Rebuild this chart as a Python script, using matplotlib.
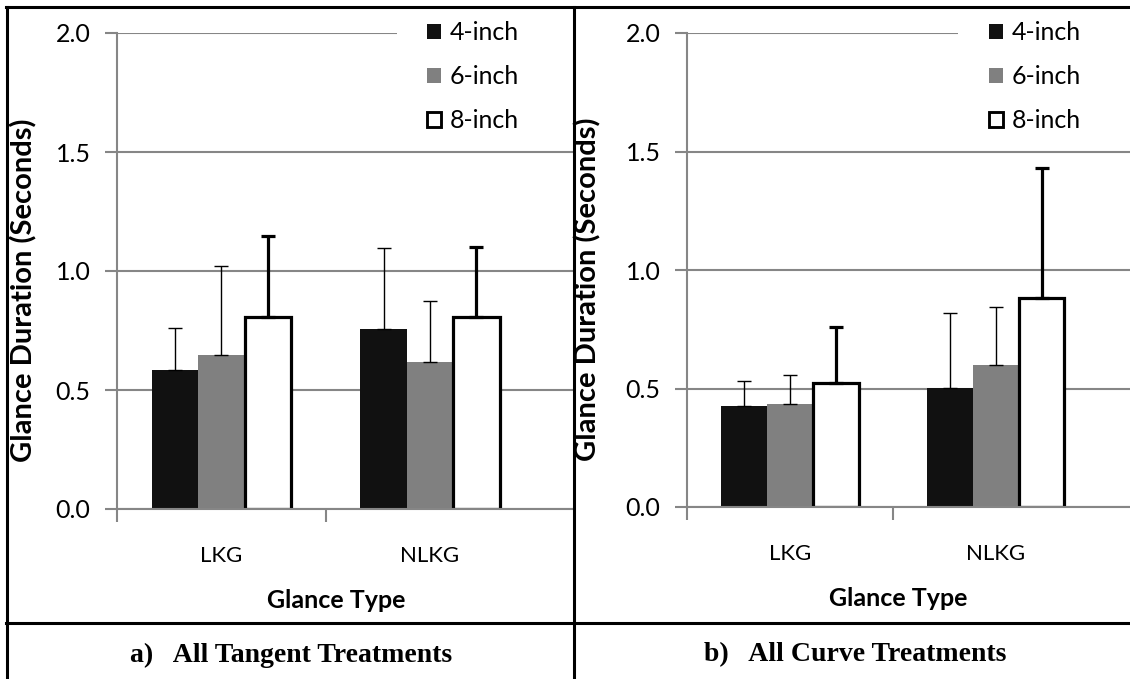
import numpy as np
import matplotlib
matplotlib.use("Agg")
import matplotlib.pyplot as plt
from matplotlib.patches import Patch, Rectangle
from matplotlib.lines import Line2D
from matplotlib.ticker import FormatStrFormatter

# ---------------- data ----------------
categories = ["LKG", "NLKG"]
sizes = ["4-inch", "6-inch", "8-inch"]

# a) all tangent treatments
tan_mean = {"4-inch": [0.585, 0.755], "6-inch": [0.648, 0.616], "8-inch": [0.805, 0.805]}
tan_err = {"4-inch": [0.177, 0.341], "6-inch": [0.371, 0.260], "8-inch": [0.340, 0.295]}

# b) all curve treatments
cur_mean = {"4-inch": [0.426, 0.503], "6-inch": [0.435, 0.598], "8-inch": [0.522, 0.883]}
cur_err = {"4-inch": [0.107, 0.317], "6-inch": [0.122, 0.246], "8-inch": [0.237, 0.549]}

captions = ["a)   All Tangent Treatments", "b)   All Curve Treatments"]

# ---------------- style ----------------
face = {"4-inch": "#111111", "6-inch": "#808080", "8-inch": "white"}
edge_w = {"4-inch": 0, "6-inch": 0, "8-inch": 2.3}
err_w = {"4-inch": 1.0, "6-inch": 1.0, "8-inch": 2.3}
grid_c = "#868686"
sans = ["Lato", "DejaVu Sans"]
W, H = 1130, 679

fig = plt.figure(figsize=(W / 100, H / 100), dpi=100)


def px(x0, y0, x1, y1):
    # pixel box -> figure fraction [left, bottom, width, height]
    return [x0 / W, 1 - y1 / H, (x1 - x0) / W, (y1 - y0) / H]


def panel(box, xmax, means, errs, legend_x, legend_right, xlab_x, ylab_x):
    ax = fig.add_axes(box)
    x = np.arange(len(categories))
    bw = 1 / 4.5
    for i, s in enumerate(sizes):
        ax.bar(x + (i - 1) * bw, means[s], bw, color=face[s], edgecolor="black",
               linewidth=edge_w[s], zorder=2)
        ax.errorbar(x + (i - 1) * bw, means[s], yerr=[np.zeros(len(x)), errs[s]],
                    fmt="none", ecolor="black", elinewidth=err_w[s],
                    capsize=5, capthick=err_w[s], zorder=3)
    ax.set_xlim(-0.5, xmax)
    ax.set_ylim(0, 2.0)
    ax.set_yticks([0, 0.5, 1.0, 1.5, 2.0])
    ax.yaxis.set_major_formatter(FormatStrFormatter("%.1f"))
    ax.set_xticks(x)
    ax.set_xticklabels(categories, fontsize=16, family=sans)
    ax.set_xticks([-0.5, 0.5], minor=True)
    ax.tick_params(axis="x", which="major", length=0, pad=27)
    ax.tick_params(axis="x", which="minor", length=9, width=1.5, color=grid_c, direction="out")
    ax.tick_params(axis="y", length=9, width=1.5, color=grid_c, labelsize=18, pad=10)
    for lab in ax.get_yticklabels():
        lab.set_family(sans)
    ax.set_axisbelow(True)
    ax.yaxis.grid(True, color=grid_c, linewidth=1.5)
    for sp in ["top", "right"]:
        ax.spines[sp].set_visible(False)
    for sp in ["left", "bottom"]:
        ax.spines[sp].set_color(grid_c)
        ax.spines[sp].set_linewidth(1.5)
    ax.set_xlabel("Glance Type", fontsize=18, fontweight="bold", family=sans)
    ax.xaxis.set_label_coords(xlab_x, -0.168)
    ax.set_ylabel("Glance Duration (Seconds)", fontsize=21, fontweight="bold", family=sans)
    ax.yaxis.set_label_coords(ylab_x, 0.46)
    # legend sits on white, cutting the top gridline
    ax.add_patch(Rectangle((legend_x, 0.97), 1.2, 0.06, transform=ax.transAxes,
                           facecolor="white", edgecolor="none", zorder=1, clip_on=False))
    handles = [Patch(facecolor=face[s], edgecolor="black", linewidth=edge_w[s] * 0.9) for s in sizes]
    ax.legend(handles, sizes, loc="upper right", bbox_to_anchor=(legend_right, 1.025), frameon=False,
              prop={"family": sans, "size": 18}, handlelength=0.55, handleheight=0.55,
              handletextpad=0.35, labelspacing=0.84, borderaxespad=0, borderpad=0)
    return ax


panel(px(117, 33, 573, 509), 1.685, tan_mean, tan_err, (397 - 117) / 456,
      (519 - 117) / 456, (336 - 117) / 456, (37 - 117) / 456)
panel(px(687, 33, 1130, 507), 1.652, cur_mean, cur_err, (958 - 687) / 443,
      (1081 - 687) / 443, (898 - 687) / 443, (601 - 687) / 443)

# captions
fig.text(291 / W, 1 - 655 / H, captions[0], ha="center", va="center", fontsize=20,
         fontweight="bold", family="Liberation Serif")
fig.text(855 / W, 1 - 655 / H, captions[1], ha="center", va="center", fontsize=20,
         fontweight="bold", family="Liberation Serif")

# table borders
lw = 2.2
fig.add_artist(Line2D([7 / W, 7 / W], [0, 1 - 7 / H], color="black", lw=lw))
fig.add_artist(Line2D([574 / W, 574 / W], [0, 1 - 7 / H], color="black", lw=lw))
fig.add_artist(Line2D([6 / W, 1], [1 - 7 / H, 1 - 7 / H], color="black", lw=lw))
fig.add_artist(Line2D([6 / W, 1], [1 - 623 / H, 1 - 623 / H], color="black", lw=lw))

fig.savefig("out.png", dpi=100)
